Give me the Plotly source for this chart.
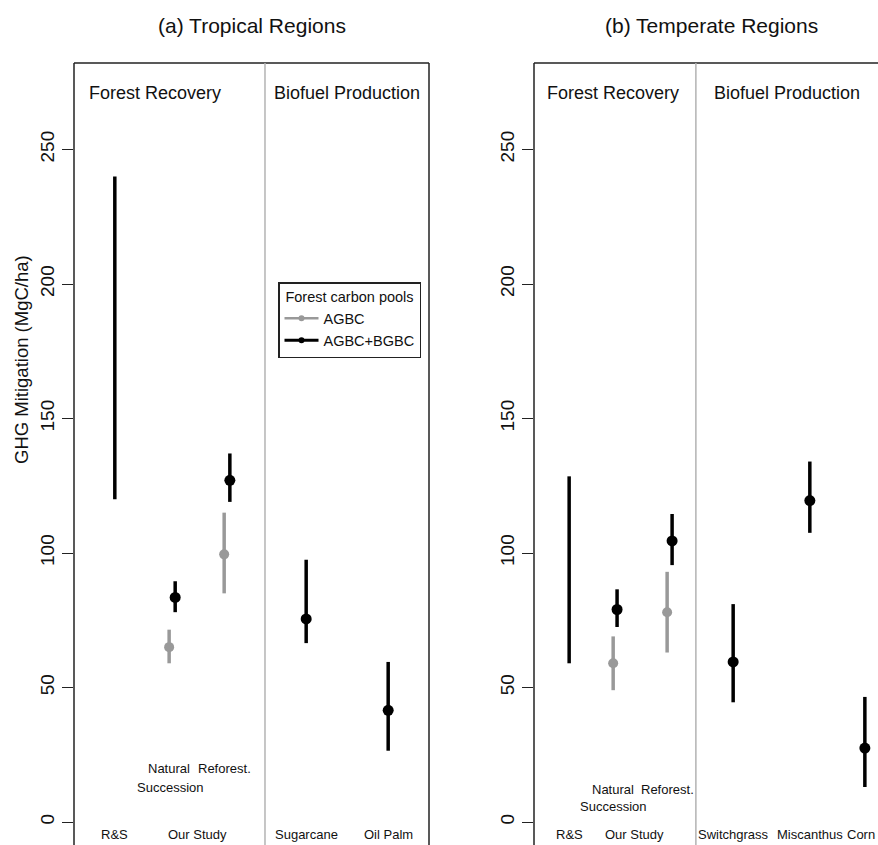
import plotly.graph_objects as go

# ---------------- data ----------------
# (a) Tropical regions
trop_black_x = [1.15, 2.85, 4.39, 6.54, 8.85]          # R&S, Nat. succ., Reforest., Sugarcane, Oil Palm
trop_black_mid = [None, 83.5, 127.0, 75.5, 41.5]
trop_black_lo = [120.0, 78.0, 119.0, 66.5, 26.5]
trop_black_hi = [240.0, 89.5, 137.0, 97.5, 59.5]
trop_gray_x = [2.68, 4.23]                               # Nat. succ., Reforest. (AGBC)
trop_gray_mid = [65.0, 99.5]
trop_gray_lo = [59.0, 85.0]
trop_gray_hi = [71.5, 115.0]

# (b) Temperate regions
temp_black_x = [0.99, 2.34, 3.89, 5.61, 7.77, 9.32]     # R&S, Nat., Ref., Switchgrass, Miscanthus, Corn
temp_black_mid = [None, 79.0, 104.5, 59.5, 119.5, 27.5]
temp_black_lo = [59.0, 72.5, 95.5, 44.5, 107.5, 13.0]
temp_black_hi = [128.5, 86.5, 114.5, 81.0, 134.0, 46.5]
temp_gray_x = [2.23, 3.75]
temp_gray_mid = [59.0, 78.0]
temp_gray_lo = [49.0, 63.0]
temp_gray_hi = [69.0, 93.0]

y_ticks = [0, 50, 100, 150, 200, 250]

trop_labels = ["R&S", "Our Study", "Natural", "Succession", "Reforest.", "Sugarcane", "Oil Palm"]
trop_label_x = [1.15, 3.47, 2.68, 2.70, 4.23, 6.54, 8.85]
trop_label_y = [-4.8, -4.8, 20.0, 13.0, 20.0, -4.8, -4.8]
temp_labels = ["R&S", "Our Study", "Natural", "Succession", "Reforest.", "Switchgrass", "Miscanthus", "Corn"]
temp_label_x = [0.99, 2.82, 2.23, 2.23, 3.75, 5.61, 7.77, 9.22]
temp_label_y = [-4.8, -4.8, 11.9, 5.9, 11.9, -4.8, -4.8, -4.8]

sections = ["Forest Recovery", "Biofuel Production"]
trop_section_x = [2.28, 7.69]
temp_section_x = [2.23, 7.13]
trop_divider = 5.38
temp_divider = 4.56

# ---------------- style / geometry ----------------
W, H = 878, 845
FONT = "Liberation Sans, Arial, sans-serif"
BLACK = "#000000"
GRAY = "#999999"
PX_PER_UNIT = 35.5


def px(xs):
    return xs / W


def py(ys):
    return 1 - ys / H


LEFT_DOM = [px(74), px(429)]
RIGHT_DOM = [px(534), 1.0]
Y_TOP_PX, Y0_PX, Y_SCALE = 63, 822, 2.69
y_range = [(Y0_PX - H) / Y_SCALE, (Y0_PX - Y_TOP_PX) / Y_SCALE]
y_dom = [0.0, py(Y_TOP_PX)]


def seg(xs, lo, hi):
    X, Y = [], []
    for x, a, b in zip(xs, lo, hi):
        X += [x, x, None]
        Y += [a, b, None]
    return X, Y


fig = go.Figure()


def add_panel(xa, ya, bx, bmid, blo, bhi, gx, gmid, glo, ghi):
    X, Y = seg(gx, glo, ghi)
    fig.add_trace(go.Scatter(x=X, y=Y, mode="lines", line=dict(color=GRAY, width=3.5),
                             xaxis=xa, yaxis=ya, showlegend=False, hoverinfo="skip"))
    fig.add_trace(go.Scatter(x=gx, y=gmid, mode="markers", marker=dict(color=GRAY, size=10),
                             xaxis=xa, yaxis=ya, showlegend=False))
    X, Y = seg(bx, blo, bhi)
    fig.add_trace(go.Scatter(x=X, y=Y, mode="lines", line=dict(color=BLACK, width=3.5),
                             xaxis=xa, yaxis=ya, showlegend=False, hoverinfo="skip"))
    fig.add_trace(go.Scatter(x=bx, y=bmid, mode="markers", marker=dict(color=BLACK, size=11),
                             xaxis=xa, yaxis=ya, showlegend=False))


add_panel("x", "y", trop_black_x, trop_black_mid, trop_black_lo, trop_black_hi,
          trop_gray_x, trop_gray_mid, trop_gray_lo, trop_gray_hi)
add_panel("x2", "y2", temp_black_x, temp_black_mid, temp_black_lo, temp_black_hi,
          temp_gray_x, temp_gray_mid, temp_gray_lo, temp_gray_hi)

# legend entries
fig.add_trace(go.Scatter(x=[None], y=[None], mode="lines+markers", name="AGBC",
                         line=dict(color=GRAY, width=2.5), marker=dict(color=GRAY, size=6)))
fig.add_trace(go.Scatter(x=[None], y=[None], mode="lines+markers", name="AGBC+BGBC",
                         line=dict(color=BLACK, width=3), marker=dict(color=BLACK, size=6)))

yaxis_common = dict(range=y_range, domain=y_dom, tickvals=y_ticks, ticktext=[str(v) for v in y_ticks],
                    tickangle=-90, ticks="outside", ticklen=11, tickwidth=1.3, tickcolor="#222",
                    showgrid=False, zeroline=False, showline=False,
                    tickfont=dict(family=FONT, size=19, color="#111"))
xaxis_common = dict(showgrid=False, zeroline=False, showticklabels=False, ticks="", showline=False)

fig.update_layout(
    width=W, height=H,
    margin=dict(l=0, r=0, t=0, b=0),
    paper_bgcolor="white", plot_bgcolor="white",
    font=dict(family=FONT, color="#111"),
    xaxis=dict(domain=LEFT_DOM, range=[0, (LEFT_DOM[1] - LEFT_DOM[0]) * W / PX_PER_UNIT], **xaxis_common),
    xaxis2=dict(domain=RIGHT_DOM, range=[0, (RIGHT_DOM[1] - RIGHT_DOM[0]) * W / PX_PER_UNIT],
                anchor="y2", **xaxis_common),
    yaxis=dict(anchor="x", **yaxis_common),
    yaxis2=dict(anchor="x2", **yaxis_common),
    showlegend=True,
    legend=dict(x=px(278), y=py(282), xanchor="left", yanchor="top",
                bgcolor="white", bordercolor="#222", borderwidth=1.5,
                font=dict(family=FONT, size=14.5, color="#111"),
                title=dict(text="Forest carbon pools", side="top center",
                           font=dict(family=FONT, size=14.5, color="#111")),
                itemwidth=34, tracegroupgap=0),
)

shapes = []
for xa, ya, right in (("x", "y", True), ("x2", "y2", False)):
    xd, yd = xa + " domain", ya + " domain"
    shapes.append(dict(type="line", xref=xd, yref=yd, x0=0, x1=1, y0=1, y1=1,
                       line=dict(color="#222", width=1.5)))
    shapes.append(dict(type="line", xref=xd, yref=yd, x0=0, x1=0, y0=0, y1=1,
                       line=dict(color="#222", width=1.5)))
    if right:
        shapes.append(dict(type="line", xref=xd, yref=yd, x0=1, x1=1, y0=0, y1=1,
                           line=dict(color="#222", width=1.5)))
shapes.append(dict(type="line", xref="x", yref="y domain", x0=trop_divider, x1=trop_divider, y0=0, y1=1,
                   line=dict(color="#b3b3b3", width=1.5)))
shapes.append(dict(type="line", xref="x2", yref="y2 domain", x0=temp_divider, x1=temp_divider, y0=0, y1=1,
                   line=dict(color="#b3b3b3", width=1.5)))
fig.update_layout(shapes=shapes)

ann = []
ann.append(dict(text="(a) Tropical Regions", x=px(252), y=py(25), xref="paper", yref="paper",
                xanchor="center", yanchor="middle",
                showarrow=False, font=dict(family=FONT, size=21, color="#111")))
ann.append(dict(text="(b) Temperate Regions", x=px(711), y=py(25), xref="paper", yref="paper",
                xanchor="center", yanchor="middle",
                showarrow=False, font=dict(family=FONT, size=21, color="#111")))
ann.append(dict(text="GHG Mitigation (MgC/ha)", x=px(22), y=py(360), xref="paper", yref="paper",
                xanchor="center", yanchor="middle",
                textangle=-90, showarrow=False, font=dict(family=FONT, size=18.5, color="#111")))
for s, x in zip(sections, trop_section_x):
    ann.append(dict(text=s, x=x, y=271, xref="x", yref="y", showarrow=False,
                    font=dict(family=FONT, size=18, color="#111")))
for s, x in zip(sections, temp_section_x):
    ann.append(dict(text=s, x=x, y=271, xref="x2", yref="y2", showarrow=False,
                    font=dict(family=FONT, size=18, color="#111")))
for t, x, y in zip(trop_labels, trop_label_x, trop_label_y):
    ann.append(dict(text=t, x=x, y=y, xref="x", yref="y", showarrow=False,
                    font=dict(family=FONT, size=13, color="#111")))
for t, x, y in zip(temp_labels, temp_label_x, temp_label_y):
    ann.append(dict(text=t, x=x, y=y, xref="x2", yref="y2", showarrow=False,
                    font=dict(family=FONT, size=13, color="#111")))
fig.update_layout(annotations=ann)

fig.write_html("out.html", config={"displayModeBar": False},
               post_script="document.body.style.margin='0px';document.body.style.overflow='hidden';")
